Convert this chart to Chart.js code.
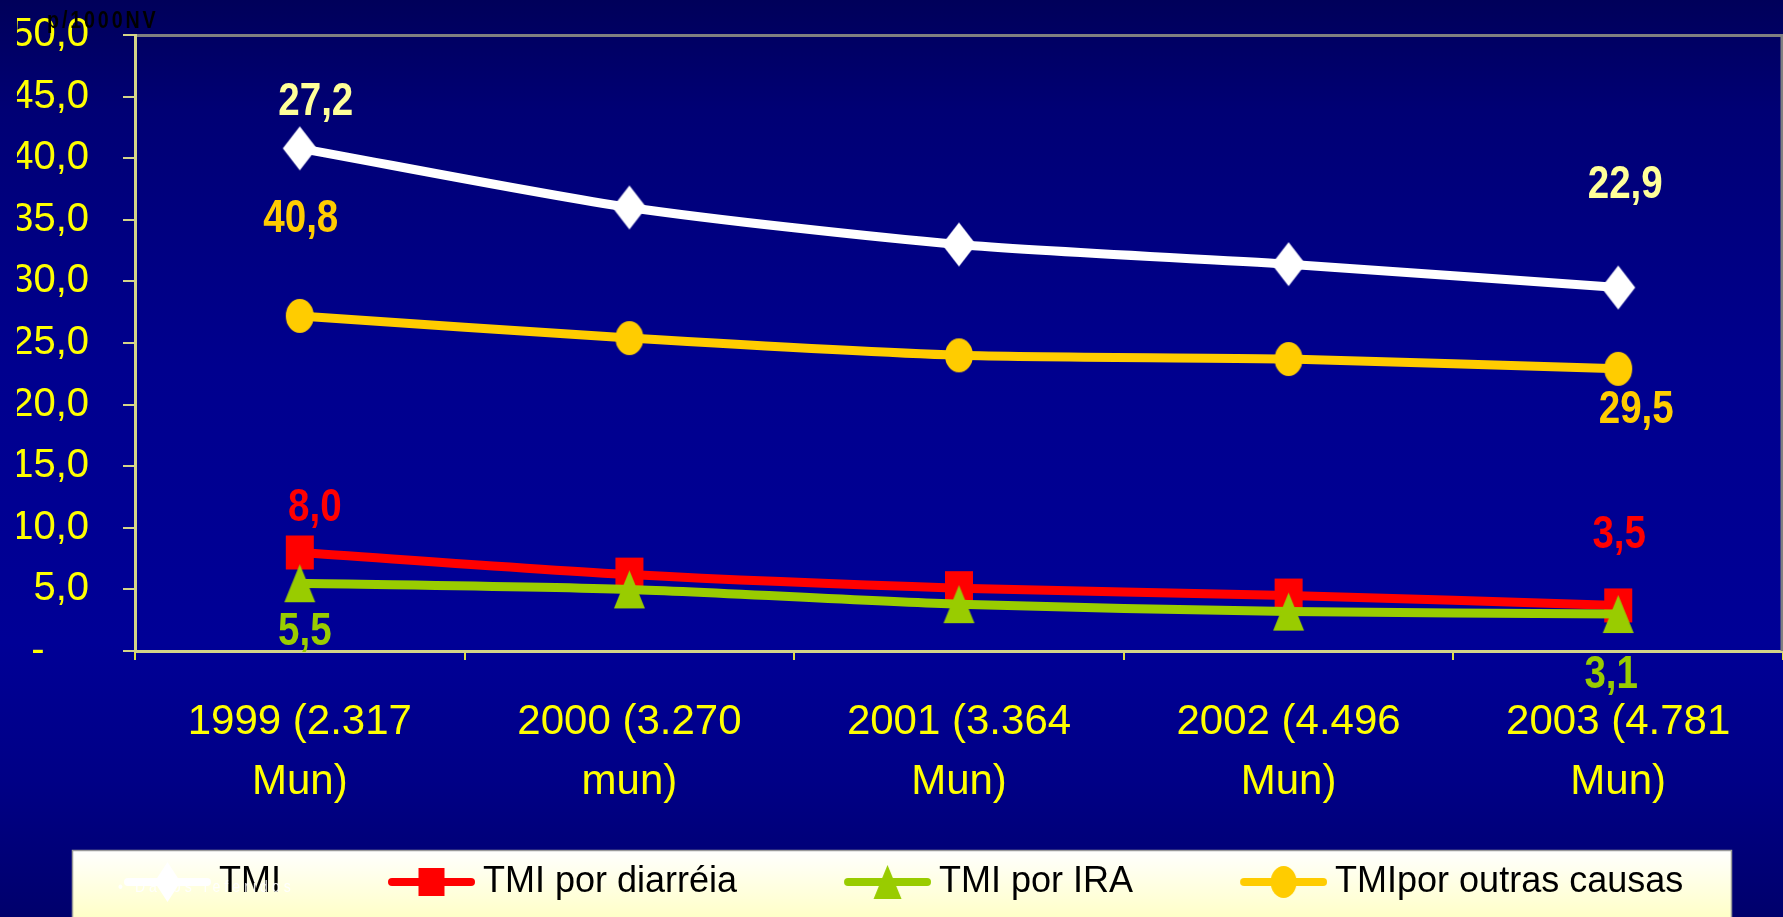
<!DOCTYPE html>
<html><head><meta charset="utf-8">
<script src="https://cdn.jsdelivr.net/npm/chart.js@4.4.1/dist/chart.umd.min.js"></script>
<style>html,body{margin:0;padding:0;background:#000080;overflow:hidden}#wrap{width:1783px;height:917px}</style>
</head><body><div id="wrap"><canvas id="c" width="1783" height="917"></canvas></div>
<script>
// ---- data ----
const categories = [['1999 (2.317','Mun)'],['2000 (3.270','mun)'],['2001 (3.364','Mun)'],['2002 (4.496','Mun)'],['2003 (4.781','Mun)']];
const seriesNames = ['TMI','TMI por diarréia','TMI por IRA','TMIpor outras causas'];
const tmi         = [40.8, 36.0, 33.0, 31.4, 29.5];
const tmiDiarreia = [8.0, 6.2, 5.1, 4.5, 3.7];
const tmiIRA      = [5.5, 5.0, 3.8, 3.2, 3.0];
const tmiOutras   = [27.2, 25.4, 24.0, 23.7, 22.9];
const tmiLabels      = ['27,2','','','','22,9'];
const diarreiaLabels = ['8,0','','','','3,5'];
const iraLabels      = ['5,5','','','','3,1'];
const outrasLabels   = ['40,8','','','','29,5'];
const yTickLabels = ['-','5,0','10,0','15,0','20,0','25,0','30,0','35,0','40,0','45,0','50,0'];
const yAxisTitle = 'p/1000NV';
const noteText = '\u2022 Dados referidos';

const FONT = "'Liberation Sans',Arial,Helvetica,sans-serif";
const NARROW = 0.82;

// ---- marker images ----
function drawShape(ctx, shape, color, cx, cy, w, h) {
  ctx.fillStyle = color;
  ctx.beginPath();
  if (shape === 'diamond') {
    ctx.moveTo(cx, cy - h/2); ctx.lineTo(cx + w/2, cy); ctx.lineTo(cx, cy + h/2); ctx.lineTo(cx - w/2, cy);
  } else if (shape === 'square') {
    ctx.rect(cx - w/2, cy - h/2, w, h);
  } else if (shape === 'triangle') {
    ctx.moveTo(cx, cy - h/2); ctx.lineTo(cx + w/2, cy + h/2); ctx.lineTo(cx - w/2, cy + h/2);
  } else {
    ctx.ellipse(cx, cy, w/2, h/2, 0, 0, Math.PI*2);
  }
  ctx.closePath();
  ctx.fill();
}
function markerImg(shape, color, w, h) {
  const c = document.createElement('canvas');
  c.width = w + 2; c.height = h + 2;
  drawShape(c.getContext('2d'), shape, color, c.width/2, c.height/2, w, h);
  return c;
}
const LEG_BOX = 174, LEG_W = LEG_BOX + 20, LEG_H = 44, LEG_LINE = 87;
function legendImg(shape, color, w, h) {
  const c = document.createElement('canvas');
  c.width = LEG_W; c.height = LEG_H;
  const ctx = c.getContext('2d');
  const x0 = LEG_W - LEG_LINE + 4, x1 = LEG_W - 4, cy = LEG_H/2;
  ctx.strokeStyle = color; ctx.lineWidth = 8; ctx.lineCap = 'round';
  ctx.beginPath(); ctx.moveTo(x0, cy); ctx.lineTo(x1, cy); ctx.stroke();
  drawShape(ctx, shape, color, (x0 + x1)/2, cy, w, h);
  return c;
}
const styles = [
  {shape:'diamond', color:'#FFFFFF', w:34, h:44, lw:26, lh:40},
  {shape:'square', color:'#FF0000', w:28, h:34, lw:26, lh:28},
  {shape:'triangle', color:'#99CC00', w:31, h:38, lw:28, lh:34},
  {shape:'circle', color:'#FFCC00', w:28, h:34, lw:26, lh:32}
];
const seriesData = [tmi, tmiDiarreia, tmiIRA, tmiOutras];
const seriesLabels = [tmiLabels, diarreiaLabels, iraLabels, outrasLabels];
const labelColors = ['#FFFF99', '#FF0000', '#99CC00', '#FFCC00'];
// pixel offsets of the value labels relative to their point (first, last)
const labelOffsets = [
  [[16,-46],null,null,null,[7,-103]],
  [[15,-44],null,null,null,[1,-70]],
  [[5,49],null,null,null,[-7,61]],
  [[1,-97],null,null,null,[18,41]]
];

const datasets = seriesNames.map((name, i) => ({
  label: name,
  data: seriesData[i],
  borderColor: styles[i].color,
  backgroundColor: styles[i].color,
  borderWidth: 9,
  tension: 0.25,
  pointStyle: markerImg(styles[i].shape, styles[i].color, styles[i].w, styles[i].h),
  pointRadius: 16,
  order: 4 - i,
  clip: false
}));
const legendImgs = styles.map(s => legendImg(s.shape, s.color, s.lw, s.lh));

function narrowText(ctx, text, x, y) {
  ctx.save();
  ctx.translate(x, y);
  ctx.scale(NARROW, 1);
  ctx.fillText(text, 0, 0);
  ctx.restore();
}

// ---- plugins ----
const bgPlugin = {
  id: 'bg',
  beforeDraw(chart) {
    const ctx = chart.ctx, W = chart.width, H = chart.height;
    const g = ctx.createLinearGradient(0, 0, 0, H);
    g.addColorStop(0, '#00005A');
    g.addColorStop(0.12, '#000074');
    g.addColorStop(0.4, '#00008E');
    g.addColorStop(0.7, '#000096');
    g.addColorStop(0.85, '#000086');
    g.addColorStop(1, '#00006C');
    ctx.save();
    ctx.fillStyle = g; ctx.fillRect(0, 0, W, H);
    const lg = ctx.createLinearGradient(0, 850, 0, 917);
    lg.addColorStop(0, '#FFFFFF'); lg.addColorStop(1, '#FFFFC8');
    ctx.fillStyle = lg; ctx.fillRect(72, 850, 1660, 70);
    ctx.strokeStyle = '#9A9A9A'; ctx.lineWidth = 1.5;
    ctx.strokeRect(72.5, 850.5, 1659, 80);
    ctx.restore();
  },
  beforeDatasetsDraw(chart) {
    const ctx = chart.ctx, a = chart.chartArea;
    ctx.save();
    ctx.strokeStyle = '#808080'; ctx.lineWidth = 3;
    ctx.beginPath();
    ctx.moveTo(a.left + 2, a.top + 0.5); ctx.lineTo(a.right, a.top + 0.5);
    ctx.moveTo(a.right - 1, a.top); ctx.lineTo(a.right - 1, a.bottom);
    ctx.stroke();
    ctx.restore();
  },
  afterDatasetsDraw(chart) {
    const ctx = chart.ctx;
    ctx.save();
    ctx.font = 'bold 47px ' + FONT;
    ctx.textAlign = 'center'; ctx.textBaseline = 'middle';
    seriesLabels.forEach((labs, di) => {
      const meta = chart.getDatasetMeta(di);
      labs.forEach((t, j) => {
        if (!t) return;
        const off = labelOffsets[di][j] || [0, -40];
        const p = meta.data[j];
        ctx.fillStyle = labelColors[di];
        narrowText(ctx, t, p.x + off[0], p.y + off[1]);
      });
    });
    ctx.restore();
  },
  afterDraw(chart) {
    const ctx = chart.ctx;
    ctx.save();
    ctx.fillStyle = '#000000';
    ctx.font = 'bold 24px ' + FONT;
    ctx.letterSpacing = '3.5px';
    ctx.textBaseline = 'alphabetic';
    narrowText(ctx, yAxisTitle, 47, 28);
    ctx.fillStyle = 'rgba(255,255,255,0.9)';
    ctx.font = '17px ' + FONT;
    ctx.letterSpacing = '5px';
    ctx.textBaseline = 'middle';
    narrowText(ctx, noteText, 118, 887);
    ctx.restore();
  }
};

new Chart(document.getElementById('c'), {
  type: 'line',
  data: { labels: categories, datasets },
  options: {
    responsive: false,
    animation: false,
    devicePixelRatio: 1,
    layout: { autoPadding: false, padding: { top: 35, left: 17, right: 0, bottom: 7 } },
    plugins: {
      tooltip: { enabled: false },
      legend: {
        position: 'bottom',
        align: 'start',
        labels: {
          usePointStyle: true,
          pointStyleWidth: LEG_BOX,
          padding: 10,
          color: '#000000',
          font: { family: FONT, size: 36 },
          generateLabels: (chart) => chart.data.datasets.map((ds, i) => ({
            text: ds.label, pointStyle: legendImgs[i], fillStyle: 'rgba(0,0,0,0)',
            strokeStyle: 'rgba(0,0,0,0)', lineWidth: 0, hidden: false, datasetIndex: i, fontColor: '#000000'
          }))
        }
      }
    },
    scales: {
      x: {
        offset: true,
        grid: { offset: true, drawOnChartArea: false, tickLength: 9, color: '#E0E040', lineWidth: 2 },
        border: { color: '#D4D488', width: 3 },
        ticks: { color: '#FFFF00', font: { family: FONT, size: 42, lineHeight: 1.43 }, padding: 32, maxRotation: 0, autoSkip: false },
        afterFit: (s) => { s.height = 203; s.paddingLeft = 0; s.paddingRight = 0; }
      },
      y: {
        min: 0, max: 50,
        grid: { drawOnChartArea: false, tickLength: 12, color: '#D4D488', lineWidth: 2 },
        border: { color: '#D4D488', width: 3 },
        ticks: {
          stepSize: 5, color: '#FFFF00', padding: 34,
          font: { family: FONT, size: 40 },
          callback: (v) => { const t = yTickLabels[Math.round(v / 5)]; return t === '-' ? t + '    ' : t; }
        },
        afterFit: (s) => { s.width = 118; s.paddingTop = 0; s.paddingBottom = 0; }
      }
    }
  },
  plugins: [bgPlugin]
});
</script>
</body></html>
